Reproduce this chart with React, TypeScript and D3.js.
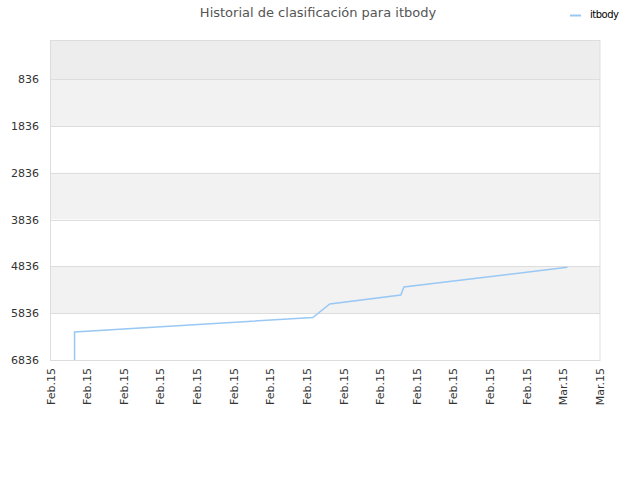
import { useEffect, useRef } from "react";
import * as d3 from "d3";

const rankDates = [
  "2015-02-02T07:30",
  "2015-02-02T07:30",
  "2015-02-15T07:40",
  "2015-02-16T06:00",
  "2015-02-20T03:00",
  "2015-02-20T07:00",
  "2015-03-01T05:15",
];
const rankValues = [6836, 6238, 5928, 5640, 5447, 5276, 4856];
const yTicks = [836, 1836, 2836, 3836, 4836, 5836, 6836];
const seriesName = "itbody";
const title = "Historial de clasificación para itbody";

const W = 640;
const H = 480;
const margin = { top: 40, right: 40, bottom: 120, left: 50.5 };

const monthAbbr = ["Jan", "Feb", "Mar", "Apr", "May", "Jun", "Jul", "Aug", "Sep", "Oct", "Nov", "Dec"];

export default function App() {
  const ref = useRef<SVGSVGElement>(null);

  useEffect(() => {
    const svg = d3.select(ref.current);
    svg.selectAll("*").remove();
    const font = "DejaVu Sans, sans-serif";

    const x = d3
      .scaleTime()
      .domain([new Date("2015-02-01T00:00"), new Date("2015-03-03T00:00")])
      .range([margin.left, W - margin.right]);
    const y = d3
      .scaleLinear()
      .domain([0, 6836])
      .range([margin.top, H - margin.bottom]);

    // alternating bands
    const bandEdges = [0, ...yTicks];
    const bandFill = (i: number) => (i === 0 ? "#ededed" : i % 2 === 1 ? "#f2f2f2" : "#ffffff");
    svg
      .append("g")
      .selectAll("rect")
      .data(bandEdges.slice(0, -1))
      .join("rect")
      .attr("x", margin.left)
      .attr("width", W - margin.right - margin.left)
      .attr("y", (d) => y(d))
      .attr("height", (d, i) => y(bandEdges[i + 1]) - y(d))
      .attr("fill", (d, i) => bandFill(i));

    // grid lines
    svg
      .append("g")
      .selectAll("line")
      .data(yTicks)
      .join("line")
      .attr("x1", margin.left)
      .attr("x2", W - margin.right)
      .attr("y1", (d) => Math.round(y(d)) + 0.5)
      .attr("y2", (d) => Math.round(y(d)) + 0.5)
      .attr("stroke", "#dddddd");

    // plot border
    svg
      .append("rect")
      .attr("x", margin.left)
      .attr("y", margin.top + 0.5)
      .attr("width", W - margin.right - margin.left)
      .attr("height", H - margin.bottom - margin.top)
      .attr("fill", "none")
      .attr("stroke", "#dddddd");

    // y labels
    svg
      .append("g")
      .selectAll("text")
      .data(yTicks)
      .join("text")
      .attr("x", 39)
      .attr("y", (d) => y(d) + 4)
      .attr("text-anchor", "end")
      .attr("font-family", font)
      .attr("font-size", 11)
      .attr("fill", "#333")
      .text((d) => String(d));

    // x labels
    const xTicks = d3.timeDay.range(new Date("2015-02-01T00:00"), new Date("2015-03-04T00:00"), 2);
    svg
      .append("g")
      .selectAll("text")
      .data(xTicks)
      .join("text")
      .attr("transform", (d) => `translate(${x(d) + 4},368) rotate(-90)`)
      .attr("text-anchor", "end")
      .attr("font-family", font)
      .attr("font-size", 11)
      .attr("fill", "#333")
      .text((d) => `${monthAbbr[d.getMonth()]}.${String(d.getFullYear()).slice(2)}`);

    // series line
    const pts: [Date, number][] = rankDates.map((d, i) => [new Date(d), rankValues[i]]);
    svg
      .append("path")
      .datum(pts)
      .attr("fill", "none")
      .attr("stroke", "#99c8f5")
      .attr("stroke-width", 1.5)
      .attr(
        "d",
        d3
          .line<[Date, number]>()
          .x((d) => x(d[0]))
          .y((d) => y(d[1]))
      );

    // title
    svg
      .append("text")
      .attr("x", 318)
      .attr("y", 17)
      .attr("text-anchor", "middle")
      .attr("font-family", font)
      .attr("font-size", 13)
      .attr("fill", "#555")
      .text(title);

    // legend
    svg
      .append("line")
      .attr("x1", 570)
      .attr("x2", 581)
      .attr("y1", 15.5)
      .attr("y2", 15.5)
      .attr("stroke", "#99c8f5")
      .attr("stroke-width", 2);
    svg
      .append("text")
      .attr("x", 590)
      .attr("y", 18)
      .attr("font-family", font)
      .attr("font-size", 10)
      .attr("letter-spacing", -0.5)
      .attr("fill", "#000")
      .text(seriesName);
  }, []);

  return (
    <svg
      ref={ref}
      width={W}
      height={H}
      style={{ position: "absolute", left: 0, top: 0, background: "#fff" }}
    />
  );
}
